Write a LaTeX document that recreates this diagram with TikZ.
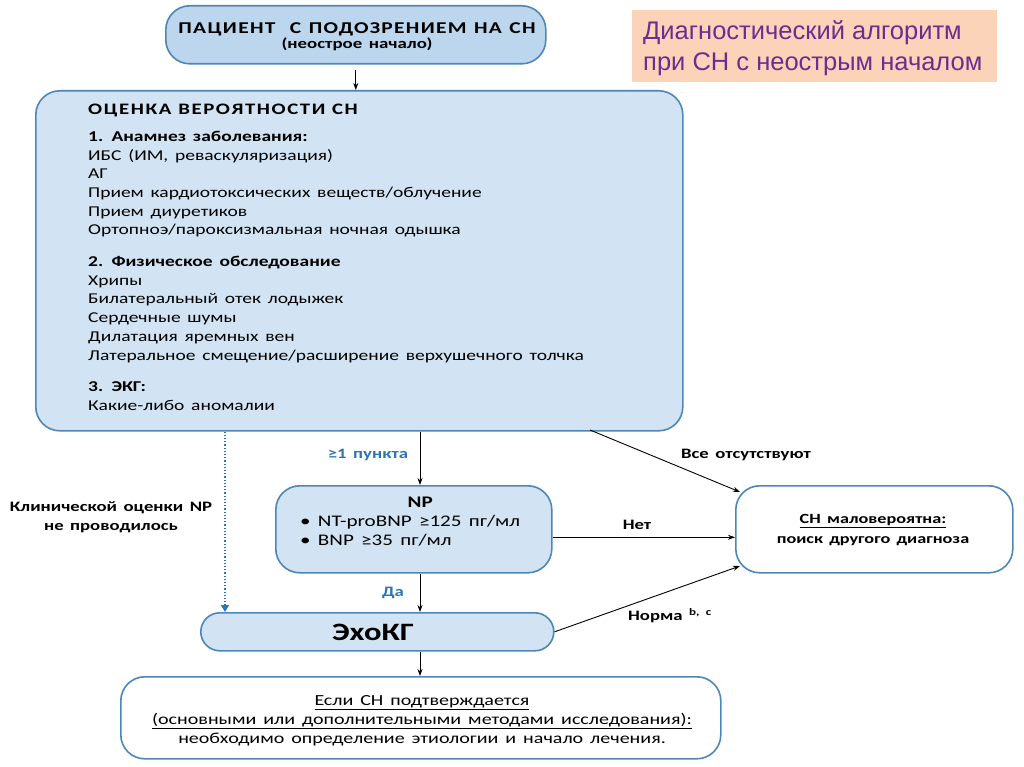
\documentclass[tikz,border=0pt]{standalone}
\usepackage{fontspec}
\setmainfont{Carlito}[FakeStretch=1.3]
\newfontfamily\titlefont{Liberation Sans}
\usetikzlibrary{arrows.meta,calc}
\definecolor{bfill}{HTML}{D2E4F3}
\definecolor{bfilltop}{HTML}{BCD6EE}
\definecolor{bline}{HTML}{4F86B8}
\definecolor{lblue}{HTML}{2E75B6}
\definecolor{peach}{HTML}{FBD3B8}
\definecolor{purp}{HTML}{6B2D8F}
\newcommand{\wsp}{\spaceskip=0.45em plus 0.1em minus 0.05em\relax}
\begin{document}
\begin{tikzpicture}[x=1pt,y=-1pt,
  box/.style={draw=bline, line width=1.6pt, rounded corners=24pt, inner sep=0pt},
  arr/.style={-{Stealth[length=7pt,width=5pt]}, line width=0.9pt, black},
  lbl/.style={font=\bfseries\fontsize{14.4}{16}\selectfont\wsp, inner sep=1pt},
]
\useasboundingbox (0,0) rectangle (1024,767);
\fill[white] (0,0) rectangle (1024,767);

% title
\node[fill=peach, minimum width=365pt, minimum height=72pt, inner sep=0pt, anchor=north west] (title) at (632,10) {};
\node[anchor=west, align=left, text=purp, font=\titlefont\fontsize{25.5}{31}\selectfont, inner sep=0pt] (titletext) at (643,48) {Диагностический алгоритм\\при СН с неострым началом};

% top box
\node[box, fill=bfilltop, minimum width=380pt, minimum height=58pt, anchor=north west] (top) at (165,5) {};
\node[align=center, inner sep=0pt, font=\bfseries] (toptext) at (357,37) {{\fontsize{16.5}{18}\selectfont\addfontfeature{LetterSpace=8}\wsp ПАЦИЕНТ\hspace{7pt} С ПОДОЗРЕНИЕМ НА СН}\\[1pt]{\fontsize{14.5}{16}\selectfont\wsp (неострое начало)}};

% evaluation box
\node[box, fill=bfill, minimum width=647pt, minimum height=340pt, anchor=north west] (eval) at (35,90) {};
\node[anchor=north west, align=left, inner sep=0pt, font=\fontsize{15}{18.7}\selectfont\wsp] (evaltext) at (88,104) {%
{\bfseries\fontsize{16}{18}\selectfont\addfontfeature{LetterSpace=10}ОЦЕНКА ВЕРОЯТНОСТИ СН}\\[8pt]
{\bfseries 1. Анамнез заболевания:}\\
ИБС (ИМ, реваскуляризация)\\
АГ\\
Прием кардиотоксических веществ/облучение\\
Прием диуретиков\\
Ортопноэ/пароксизмальная ночная одышка\\[13pt]
{\bfseries 2. Физическое обследование}\\
Хрипы\\
Билатеральный отек лодыжек\\
Сердечные шумы\\
Дилатация яремных вен\\
Латеральное смещение/расширение верхушечного толчка\\[13pt]
{\bfseries 3. ЭКГ:}\\
Какие-либо аномалии};

% NP box
\node[box, fill=bfill, minimum width=276pt, minimum height=87pt, anchor=north west] (np) at (275,485) {};
\node[align=left, inner sep=0pt, font=\fontsize{16.2}{19}\selectfont\wsp, anchor=north west] (nptext) at (300,497) {%
\makebox[240pt][c]{\bfseries NP}\\
\textbullet\ NT-proBNP ≥125 пг/мл\\
\textbullet\ BNP ≥35 пг/мл};

% unlikely box
\node[box, fill=white, minimum width=277pt, minimum height=87pt, anchor=north west] (unl) at (735,485) {};
\node[align=center, inner sep=0pt, font=\bfseries\fontsize{14}{20}\selectfont\wsp] (unltext) at (873,530) {\underline{СН маловероятна:}\\поиск другого диагноза};

% echo box
\node[box, fill=bfill, rounded corners=19pt, minimum width=353pt, minimum height=38pt, anchor=north west] (echo) at (200,612) {};
\node[inner sep=0pt, font=\bfseries\fontsize{25}{28}\selectfont] (echotext) at (373,632) {ЭхоКГ};

% final box
\node[box, fill=white, minimum width=600pt, minimum height=82pt, anchor=north west] (fin) at (120,676) {};
\node[align=center, inner sep=0pt, font=\fontsize{15.4}{19}\selectfont\wsp] (fintext) at (422,721) {\underline{Если СН подтверждается}\\\underline{(основными или дополнительными методами исследования):}\\необходимо определение этиологии и начало лечения.};

% coordinates
\coordinate (xnp) at (420,0);
\coordinate (xdot) at (225,0);
\coordinate (absS) at (590,430);
\coordinate (absE) at (740,492);
\coordinate (normE) at (740,566);

% connectors
\draw[arr] ([yshift=-5pt]top.south) -- (top.south |- eval.north);
\draw[arr] (eval.south -| xnp) -- (np.north -| xnp);
\draw[arr] (np.south -| xnp) -- (echo.north -| xnp);
\draw[arr] (echo.south -| xnp) -- (fin.north -| xnp);
\draw[arr] ([yshift=-8pt]np.east) -- ([yshift=-8pt]unl.west);
\draw[arr] (absS) -- (absE);
\draw[arr] (echo.east) -- (normE);
\draw[lblue, line width=1.2pt, dotted, -{Triangle[length=7pt,width=8pt]}] (eval.south -| xdot) -- (echo.north -| xdot);

% labels
\node[lbl, text=lblue] (l1) at (368,455) {≥1 пункта};
\node[lbl] (l2) at (746,455) {Все отсутствуют};
\node[lbl] (l3) at (637,525) {Нет};
\node[lbl, text=lblue] (l4) at (393,593) {Да};
\node[lbl] (l5) at (670,616) {Норма \textsuperscript{b, c}};
\node[lbl, align=center, font=\bfseries\fontsize{14.4}{19}\selectfont\wsp] (l6) at (111,517) {Клинической оценки NP\\не проводилось};
\end{tikzpicture}
\end{document}
